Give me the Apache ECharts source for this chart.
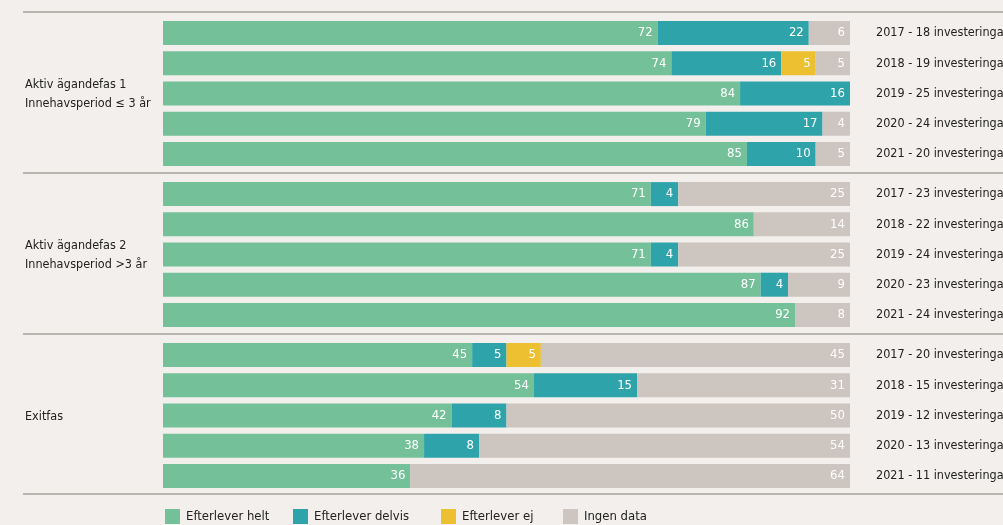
<!DOCTYPE html>
<html>
<head>
<meta charset="utf-8">
<script src="https://cdn.jsdelivr.net/npm/echarts@6/dist/echarts.min.js"></script>
<style>
  html, body { margin: 0; padding: 0; background: #f2efec; }
  #chart { width: 1003px; height: 525px; }
</style>
</head>
<body>
<div id="chart"></div>
<script>
// Andel portföljbolag per fas och år (procent)
const groups = [
  'Aktiv ägandefas 1\nInnehavsperiod ≤ 3 år',
  'Aktiv ägandefas 2\nInnehavsperiod >3 år',
  'Exitfas'
];
const rowLabels = [
  ['2017 - 18 investeringar', '2018 - 19 investeringar', '2019 - 25 investeringar', '2020 - 24 investeringar', '2021 - 20 investeringar'],
  ['2017 - 23 investeringar', '2018 - 22 investeringar', '2019 - 24 investeringar', '2020 - 23 investeringar', '2021 - 24 investeringar'],
  ['2017 - 20 investeringar', '2018 - 15 investeringar', '2019 - 12 investeringar', '2020 - 13 investeringar', '2021 - 11 investeringar']
];
const seriesNames = ['Efterlever helt', 'Efterlever delvis', 'Efterlever ej', 'Ingen data'];
const seriesColors = ['#74c199', '#2ea4aa', '#ecc030', '#ccc5c0'];

const helt   = [[72, 74, 84, 79, 85], [71, 86, 71, 87, 92], [45, 54, 42, 38, 36]];
const delvis = [[22, 16, 16, 17, 10], [4, 0, 4, 4, 0],     [5, 15, 8, 8, 0]];
const ej     = [[0, 5, 0, 0, 0],      [0, 0, 0, 0, 0],     [5, 0, 0, 0, 0]];
const ingen  = [[6, 5, 0, 4, 5],      [25, 14, 25, 9, 8],  [45, 31, 50, 54, 64]];
const values = [helt, delvis, ej, ingen];

// Pick the narrowest installed sans font and size text to the layout widths
const ctx = document.createElement('canvas').getContext('2d');
function installed(name) {
  const probe = 'abcdefghijklmnopqrstuvwxyz0123456789';
  ctx.font = '40px monospace';
  const base = ctx.measureText(probe).width;
  ctx.font = '40px "' + name + '", monospace';
  return ctx.measureText(probe).width !== base;
}
const FAMILY = ['Liberation Sans Narrow', 'DejaVu Sans Condensed', 'Roboto', 'Noto Sans']
  .find(installed) || 'sans-serif';
const FONT = '"' + FAMILY + '", sans-serif';
function sizeFor(text, width) {
  ctx.font = '20px ' + FONT;
  return Math.round(20 * width / ctx.measureText(text).width * 2) / 2;
}
const rowSize = sizeFor('2021 - 11 investeringar', 130);
const groupSize = sizeFor('Innehavsperiod ≤ 3 år', 124);
const legendSize = sizeFor('Efterlever delvis', 95);
const valueSize = 13;

const gridTops = [18, 179, 340];
const gridH = 151;

const grids = [], xAxes = [], yAxes = [], series = [], graphics = [];

groups.forEach((g, gi) => {
  grids.push({ left: 163, right: 153, top: gridTops[gi], height: gridH, outerBoundsMode: 'none' });
  xAxes.push({ gridIndex: gi, type: 'value', min: 0, max: 100, show: false });
  yAxes.push({
    gridIndex: gi, type: 'category', inverse: true, position: 'right',
    data: rowLabels[gi],
    axisLine: { show: false }, axisTick: { show: false },
    axisLabel: {
      margin: 26, align: 'left', color: '#222', fontSize: rowSize, fontFamily: FONT,
      padding: [5, 0, 0, 0]
    }
  });
  seriesNames.forEach((name, si) => {
    series.push({
      name, type: 'bar', stack: 'g' + gi,
      xAxisIndex: gi, yAxisIndex: gi,
      barWidth: 24,
      itemStyle: { color: seriesColors[si] },
      label: {
        show: true, position: 'insideRight', distance: 5,
        color: '#fff', fontSize: valueSize, fontFamily: FONT,
        formatter: p => (p.value ? String(p.value) : '')
      },
      data: values[si][gi]
    });
  });
  const lines = g.split('\n').length;
  graphics.push({
    type: 'text', left: 25, top: gridTops[gi] + gridH / 2 - lines * 9.5 + 1,
    style: { text: g, fill: '#222', font: groupSize + 'px ' + FONT, lineHeight: 19 }
  });
});

// Avgränsande linjer mellan faserna
[12, 173, 334, 494].forEach(y => {
  graphics.push({
    type: 'line', shape: { x1: 23, y1: y, x2: 1003, y2: y },
    style: { stroke: '#b8b4b0', lineWidth: 2 }
  });
});

// Teckenförklaring, en post per serie
const legendLefts = [165, 293, 441, 563];
const legends = seriesNames.map((name, i) => ({
  data: [name], left: legendLefts[i], top: 509, padding: 0,
  icon: 'rect', itemWidth: 15, itemHeight: 15,
  textStyle: { color: '#222', fontSize: legendSize, fontFamily: FONT, padding: [0, 0, 0, 1] },
  selectedMode: false
}));

const chart = echarts.init(document.getElementById('chart'));
chart.setOption({
  backgroundColor: '#f2efec',
  animation: false,
  grid: grids,
  xAxis: xAxes,
  yAxis: yAxes,
  legend: legends,
  graphic: graphics,
  series
});
</script>
</body>
</html>
